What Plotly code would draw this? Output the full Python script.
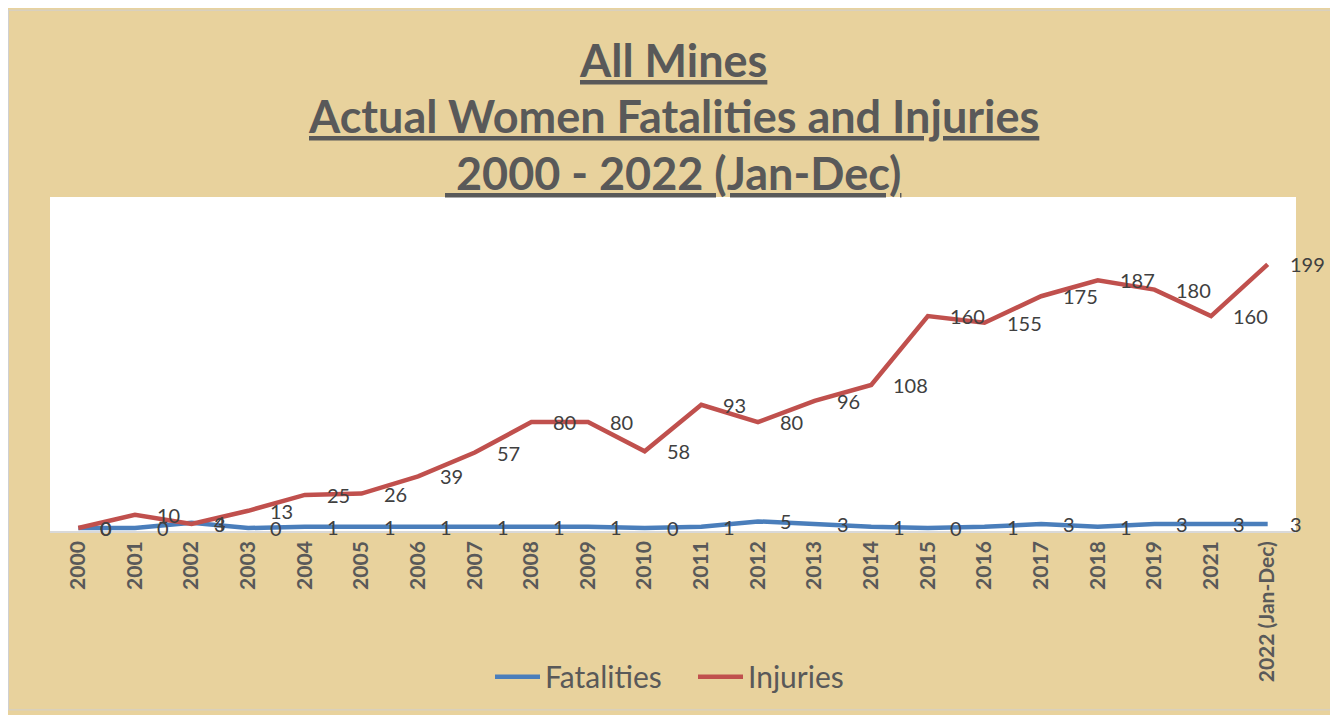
import plotly.graph_objects as go

years = ["2000", "2001", "2002", "2003", "2004", "2005", "2006", "2007", "2008", "2009",
         "2010", "2011", "2012", "2013", "2014", "2015", "2016", "2017", "2018", "2019",
         "2021", "2022 (Jan-Dec)"]
fatalities = [0, 0, 4, 0, 1, 1, 1, 1, 1, 1, 0, 1, 5, 3, 1, 0, 1, 3, 1, 3, 3, 3]
injuries = [0, 10, 3, 13, 25, 26, 39, 57, 80, 80, 58, 93, 80, 96, 108, 160, 155, 175, 187, 180, 160, 199]

BLUE = "#4A7EBB"
RED = "#C0504D"
TXT = "#404040"
TITLE = "#595959"
FONT = "Lato"

W, H = 1327, 707
L, R, T, B = 42, 39, 189, 181
PW, PH = W - L - R, H - T - B

fig = go.Figure()
fig.add_trace(go.Scatter(x=years, y=fatalities, name="Fatalities", mode="lines",
                         line=dict(color=BLUE, width=4.5)))
fig.add_trace(go.Scatter(x=years, y=injuries, name="Injuries", mode="lines",
                         line=dict(color=RED, width=4.5)))

annotations = []
for series in (fatalities, injuries):
    for i, v in enumerate(series):
        annotations.append(dict(x=i, y=v, xref="x", yref="y", text=str(v),
                                showarrow=False, xanchor="left", yanchor="middle",
                                xshift=20, font=dict(family=FONT, size=20, color=TXT)))


def py(px):
    # figure pixel (from top) -> paper y
    return (T + PH - px) / PH


def pxx(px):
    return (px - L) / PW


title_lines = ["All Mines", "Actual Women Fatalities and Injuries", "\u00a02000 - 2022 (Jan-Dec)"]
title_px = [51, 107, 165]
for t, yy in zip(title_lines, title_px):
    annotations.append(dict(x=0.5, y=py(yy), xref="paper", yref="paper", text=t, showarrow=False,
                            xanchor="center", yanchor="middle",
                            font=dict(family=FONT, size=45, color=TITLE, weight="bold",
                                      lineposition="under")))

shapes = [
    dict(type="rect", xref="paper", yref="paper", x0=pxx(0.5), x1=pxx(W - 0.5),
         y0=py(H - 0.5), y1=py(0.5),
         fillcolor="rgba(0,0,0,0)", line=dict(color="#D0D0D0", width=1), layer="below"),
    dict(type="rect", xref="paper", yref="paper", x0=0, x1=1, y0=0, y1=1,
         fillcolor="white", line=dict(width=0), layer="below"),
]

fig.update_layout(
    width=W, height=H,
    margin=dict(l=L, r=R, t=T, b=B, pad=0),
    paper_bgcolor="#E8D29D",
    plot_bgcolor="rgba(0,0,0,0)",
    showlegend=True,
    legend=dict(orientation="h", x=pxx(482), xanchor="left", y=py(673), yanchor="middle",
                font=dict(family=FONT, size=30, color=TITLE), bgcolor="rgba(0,0,0,0)",
                itemwidth=45, entrywidth=143, entrywidthmode="pixels"),
    xaxis=dict(type="category", categoryorder="array", categoryarray=years,
               range=[-0.5, 21.5], showline=True, linecolor="#D9D9D9", linewidth=1.5,
               tickangle=-90, ticks="", showgrid=False, zeroline=False,
               tickfont=dict(family=FONT, size=21, color=TITLE, weight="bold")),
    yaxis=dict(range=[-2.24, 249.9], visible=False, showgrid=False, zeroline=False),
    annotations=annotations,
    shapes=shapes,
)

fig.write_html("out.html")
